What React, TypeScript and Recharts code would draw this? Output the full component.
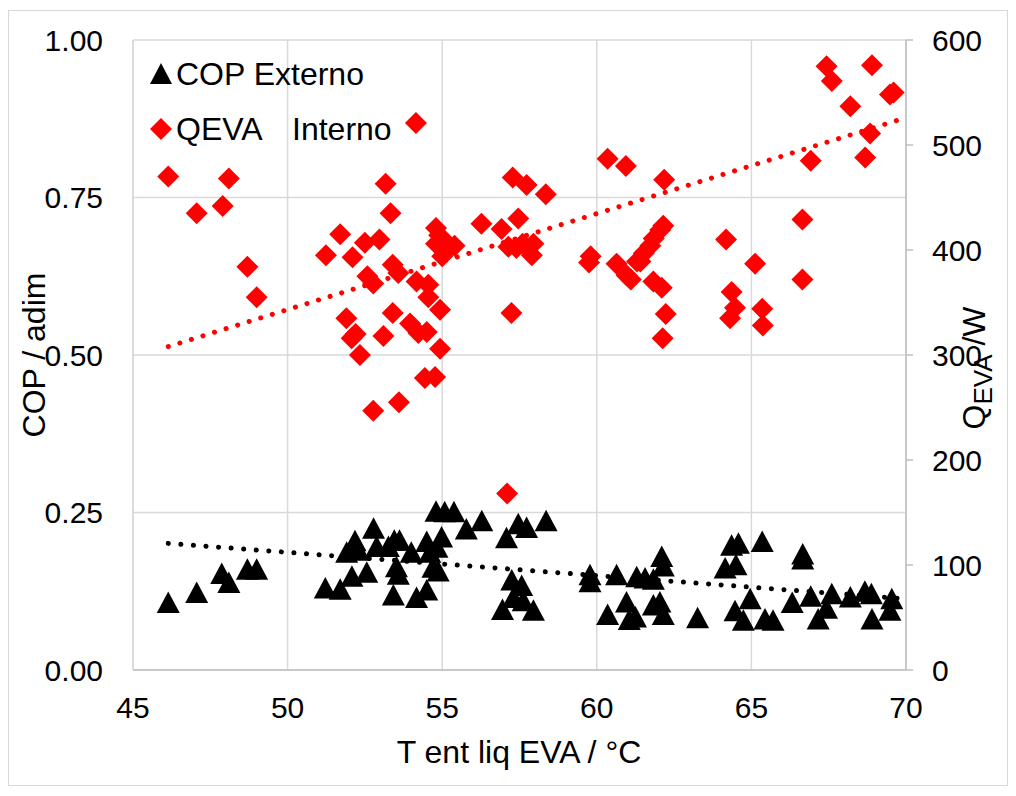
import React from "react";
import { ScatterChart, Scatter, XAxis, YAxis, CartesianGrid } from "recharts";

// COP (left axis) vs liquid inlet temperature
const COP_T = [
  46.14, 47.06, 47.87, 48.1, 48.7, 49.0, 51.22, 51.7, 52.08, 52.56, 51.91, 52.18, 52.29, 52.78,
  52.88, 53.26, 53.45, 53.62, 54.0, 53.52, 53.58, 53.42, 54.17, 54.5, 54.5, 54.6, 54.83, 54.98,
  54.7, 54.87, 54.8, 55.08, 55.38, 55.78, 56.28, 56.95, 57.08, 57.46, 57.73, 58.36, 57.25, 57.57,
  57.3, 57.62, 57.95, 59.78, 59.78, 60.64, 60.35, 60.96, 61.05, 61.25, 61.29, 61.56, 61.83, 62.1,
  62.15, 61.83, 62.04, 62.15, 63.26, 64.36, 64.58, 65.35, 66.66, 66.66, 64.15, 64.5, 64.96, 64.47,
  64.74, 65.44, 65.7, 66.32, 66.92, 67.6, 67.43, 67.16, 68.2, 68.67, 68.88, 68.9, 69.54, 69.48,
];
const COP_V = [
  0.107, 0.123, 0.153, 0.139, 0.16, 0.16, 0.13, 0.128, 0.149, 0.155, 0.187, 0.205, 0.19, 0.225,
  0.196, 0.196, 0.206, 0.206, 0.187, 0.164, 0.152, 0.119, 0.115, 0.127, 0.204, 0.187, 0.195, 0.211,
  0.163, 0.157, 0.252, 0.251, 0.251, 0.224, 0.237, 0.096, 0.21, 0.232, 0.226, 0.237, 0.143, 0.134,
  0.115, 0.11, 0.095, 0.151, 0.14, 0.151, 0.088, 0.108, 0.08, 0.084, 0.148, 0.146, 0.144, 0.18,
  0.165, 0.103, 0.108, 0.088, 0.083, 0.198, 0.201, 0.204, 0.184, 0.176, 0.162, 0.167, 0.113, 0.094,
  0.079, 0.081, 0.079, 0.107, 0.117, 0.121, 0.098, 0.081, 0.116, 0.125, 0.121, 0.081, 0.113, 0.095,
];

// QEVA (right axis, W)
const Q_T = [
  46.14, 47.06, 47.9, 48.1, 48.7, 49.0, 51.24, 51.7, 52.1, 51.9, 52.07, 52.2, 52.34, 52.5, 52.97,
  52.58, 52.77, 52.77, 53.17, 53.33, 53.1, 53.4, 53.4, 53.58, 53.6, 54.15, 53.96, 54.17, 54.23,
  54.55, 54.55, 54.5, 54.44, 54.77, 54.93, 54.93, 54.8, 54.9, 55.0, 54.8, 55.2, 55.0, 55.4, 55.1,
  56.27, 56.92, 57.28, 57.73, 58.35, 57.46, 57.14, 57.4, 57.6, 57.95, 57.9, 57.24, 57.1, 59.8,
  59.75, 60.35, 60.94, 60.64, 60.96, 61.1, 61.3, 61.41, 61.52, 61.73, 61.84, 62.05, 62.15, 62.18,
  61.83, 62.1, 62.23, 62.13, 64.18, 65.12, 64.36, 64.47, 64.31, 65.35, 65.37, 66.65, 66.65, 66.92,
  67.43, 67.6, 68.9, 68.2, 69.48, 69.6, 68.84, 68.68,
];
const Q_V = [
  470, 435, 442, 468, 384, 355, 395, 415, 393, 335, 316, 320, 300, 407, 410, 375, 368, 247, 463,
  435, 318, 340, 386, 378, 255, 521, 330, 370, 321, 367, 355, 322, 278, 279, 343, 306, 421, 414,
  411, 406, 405, 394, 404, 398, 425, 420, 469, 462, 453, 430, 403, 402, 406, 406, 395, 340, 168,
  394, 388, 487, 480, 387, 376, 372, 389, 389, 397, 404, 411, 419, 423, 467, 370, 364, 339, 316,
  410, 387, 360, 345, 335, 344, 328, 429, 372, 485, 575, 561, 576, 537, 548, 550, 511, 488,
];

// trend line end points
const COP_TREND_T = [46.14, 70];
const COP_TREND_V = [0.201, 0.113];
const Q_TREND_T = [46.14, 70];
const Q_TREND_V = [308, 526];

const X_TICKS = [45, 50, 55, 60, 65, 70];
const COP_TICKS = [0, 0.25, 0.5, 0.75, 1];
const Q_TICKS = [0, 100, 200, 300, 400, 500, 600];

const FONT = "'Liberation Sans', Arial, sans-serif";
const FS = 30; // tick labels
const TS = 32; // titles and legend

const copData = COP_T.map((t, i) => ({ t, v: COP_V[i] }));
const qData = Q_T.map((t, i) => ({ t, v: Q_V[i] }));
const copTrend = COP_TREND_T.map((t, i) => ({ t, v: COP_TREND_V[i] }));
const qTrend = Q_TREND_T.map((t, i) => ({ t, v: Q_TREND_V[i] }));

const Diamond = (props: any) => {
  const { cx, cy } = props;
  const r = 11;
  return <polygon points={`${cx},${cy - r} ${cx + r},${cy} ${cx},${cy + r} ${cx - r},${cy}`} fill="#ff0000" />;
};

const Triangle = (props: any) => {
  const { cx, cy } = props;
  return (
    <polygon points={`${cx},${cy - 11} ${cx + 11.5},${cy + 10.5} ${cx - 11.5},${cy + 10.5}`} fill="#000" />
  );
};

const Empty = () => <g />;

const tickStyle = { fontSize: FS, fill: "#000", fontFamily: FONT };

const txt = (left: number, top: number, extra: React.CSSProperties = {}): React.CSSProperties => ({
  position: "absolute",
  left,
  top,
  fontSize: TS,
  lineHeight: 1,
  whiteSpace: "nowrap",
  color: "#000",
  ...extra,
});

export default function App() {
  return (
    <div style={{ position: "absolute", left: 0, top: 0, width: 1016, height: 796, background: "#fff", fontFamily: FONT }}>
      <div
        style={{
          position: "absolute",
          left: 8,
          top: 10,
          width: 1000,
          height: 776,
          border: "1.5px solid #d9d9d9",
          boxSizing: "border-box",
        }}
      />
      <div style={{ position: "absolute", left: 0, top: 0 }}>
        <ScatterChart width={1016} height={796} margin={{ top: 40, right: 20, bottom: 66, left: 33 }}>
          <CartesianGrid yAxisId="cop" stroke="#d9d9d9" strokeWidth={1.5} />
          <XAxis
            dataKey="t"
            type="number"
            domain={[45, 70]}
            ticks={X_TICKS}
            allowDataOverflow
            height={60}
            tickLine={false}
            tickSize={0}
            tickMargin={27}
            axisLine={{ stroke: "#bfbfbf", strokeWidth: 1.5 }}
            tick={tickStyle}
          />
          <YAxis
            yAxisId="cop"
            dataKey="v"
            type="number"
            domain={[0, 1]}
            ticks={COP_TICKS}
            width={100}
            tickLine={false}
            tickSize={0}
            tickMargin={30}
            axisLine={{ stroke: "#d9d9d9", strokeWidth: 1.5 }}
            tick={tickStyle}
            tickFormatter={(v: number) => v.toFixed(2)}
          />
          <YAxis
            yAxisId="q"
            orientation="right"
            dataKey="v"
            type="number"
            domain={[0, 600]}
            ticks={Q_TICKS}
            width={90}
            tickSize={7}
            tickMargin={19}
            tickLine={{ stroke: "#bfbfbf", strokeWidth: 1.5 }}
            axisLine={{ stroke: "#bfbfbf", strokeWidth: 1.5 }}
            tick={tickStyle}
          />
          <Scatter yAxisId="cop" data={copData} shape={Triangle} isAnimationActive={false} />
          <Scatter yAxisId="q" data={qData} shape={Diamond} isAnimationActive={false} />
          <Scatter
            yAxisId="q"
            data={qTrend}
            shape={Empty}
            line={{ stroke: "#ff0000", strokeWidth: 5, strokeDasharray: "0.1 12", strokeLinecap: "round" }}
            isAnimationActive={false}
          />
          <Scatter
            yAxisId="cop"
            data={copTrend}
            shape={Empty}
            line={{ stroke: "#000", strokeWidth: 5, strokeDasharray: "0.1 12.5", strokeLinecap: "round" }}
            isAnimationActive={false}
          />
        </ScatterChart>
      </div>

      {/* legend */}
      <svg style={{ position: "absolute", left: 150, top: 62 }} width={24} height={24}>
        <polygon points="11,1 22,22 0,22" fill="#000" />
      </svg>
      <div style={txt(176, 74, { transform: "translateY(-50%)" })}>COP Externo</div>
      <svg style={{ position: "absolute", left: 150, top: 118 }} width={24} height={24}>
        <polygon points="11,0 22,11 11,22 0,11" fill="#ff0000" />
      </svg>
      <div style={txt(176, 129, { transform: "translateY(-50%)" })}>QEVA</div>
      <div style={txt(292, 129, { transform: "translateY(-50%)" })}>Interno</div>

      {/* axis titles */}
      <div style={txt(519, 752, { transform: "translate(-50%, -50%)" })}>T ent liq EVA / °C</div>
      <div style={txt(34, 355, { transform: "translate(-50%, -50%) rotate(-90deg)" })}>COP / adim</div>
      <div style={txt(977, 368, { transform: "translate(-50%, -50%) rotate(-90deg)" })}>
        Q<sub style={{ fontSize: 26, verticalAlign: "-0.3em" }}>EVA</sub> /W
      </div>
    </div>
  );
}
